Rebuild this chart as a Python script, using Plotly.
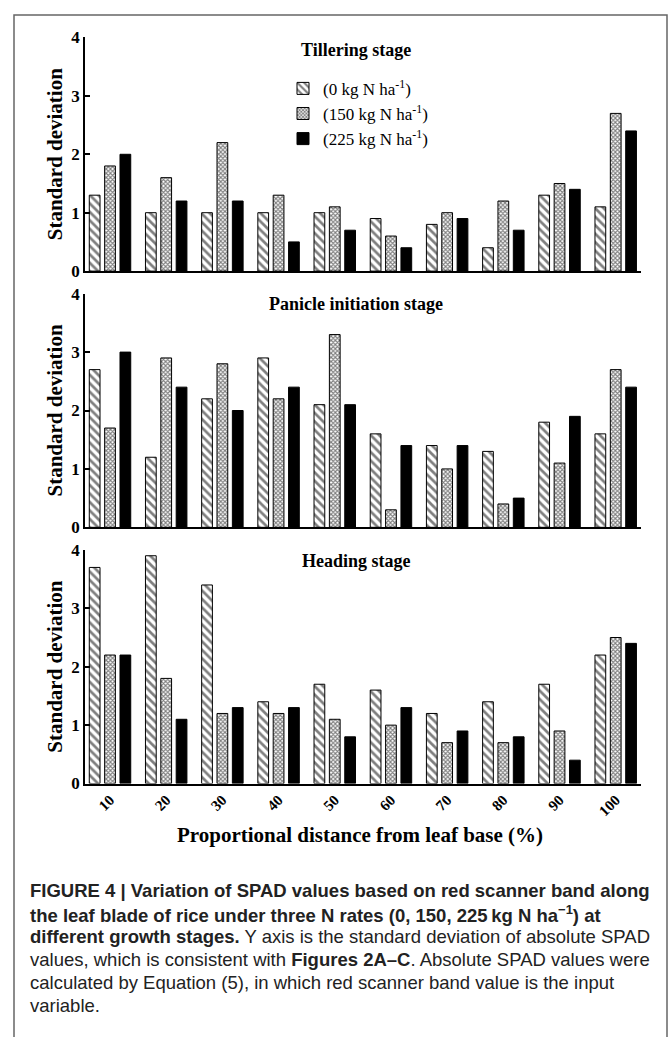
import plotly.graph_objects as go

W, H = 672, 1037

distance_labels = ["10", "20", "30", "40", "50", "60", "70", "80", "90", "100"]
series_names = ["(0 kg N ha<sup>-1</sup>)", "(150 kg N ha<sup>-1</sup>)", "(225 kg N ha<sup>-1</sup>)"]
panel_titles = ["Tillering stage", "Panicle initiation stage", "Heading stage"]

tillering_0 = [1.3, 1.0, 1.0, 1.0, 1.0, 0.9, 0.8, 0.4, 1.3, 1.1]
tillering_150 = [1.8, 1.6, 2.2, 1.3, 1.1, 0.6, 1.0, 1.2, 1.5, 2.7]
tillering_225 = [2.0, 1.2, 1.2, 0.5, 0.7, 0.4, 0.9, 0.7, 1.4, 2.4]

panicle_0 = [2.7, 1.2, 2.2, 2.9, 2.1, 1.6, 1.4, 1.3, 1.8, 1.6]
panicle_150 = [1.7, 2.9, 2.8, 2.2, 3.3, 0.3, 1.0, 0.4, 1.1, 2.7]
panicle_225 = [3.0, 2.4, 2.0, 2.4, 2.1, 1.4, 1.4, 0.5, 1.9, 2.4]

heading_0 = [3.7, 3.9, 3.4, 1.4, 1.7, 1.6, 1.2, 1.4, 1.7, 2.2]
heading_150 = [2.2, 1.8, 1.2, 1.2, 1.1, 1.0, 0.7, 0.7, 0.9, 2.5]
heading_225 = [2.2, 1.1, 1.3, 1.3, 0.8, 1.3, 0.9, 0.8, 0.4, 2.4]

y_ticks = [0, 1, 2, 3, 4]

panels = [
    [tillering_0, tillering_150, tillering_225],
    [panicle_0, panicle_150, panicle_225],
    [heading_0, heading_150, heading_225],
]

def px_x(p):
    return p / W

def px_y(p):
    return 1 - p / H

panel_px = [(29, 267), (290, 528), (551, 789)]
title_px = [42, 301, 562]
x_dom = [px_x(85), px_x(641)]

styles = [
    dict(color="white", pattern=dict(shape="\\", fgcolor="black", bgcolor="white", size=6, solidity=0.45)),
    dict(color="white", pattern=dict(shape="x", fgcolor="black", bgcolor="white", size=3, solidity=0.6)),
    dict(color="black"),
]

TNR = "Liberation Serif, Times New Roman, serif"

fig = go.Figure()
layout_axes = {}
annotations = []
for i, (vals, (top, bot)) in enumerate(zip(panels, panel_px)):
    n = "" if i == 0 else str(i + 1)
    for j, v in enumerate(vals):
        st = dict(styles[j])
        st["line"] = dict(color="black", width=1)
        fig.add_trace(go.Bar(
            x=distance_labels, y=v, name=series_names[j],
            marker=st, xaxis="x" + n, yaxis="y" + n,
            showlegend=(i == 0), legendgroup=str(j),
        ))
    layout_axes["xaxis" + n] = dict(
        domain=x_dom, anchor="y" + n, type="category",
        range=[-0.445, 9.45], showline=True, linecolor="black", linewidth=1.5,
        ticks="", showgrid=False, zeroline=False,
        showticklabels=(i == 2), tickangle=-45,
        tickfont=dict(family=TNR, size=15, color="black", weight="bold"),
    )
    layout_axes["yaxis" + n] = dict(
        domain=[px_y(bot), px_y(top)], anchor="x" + n,
        range=[0, 4], tickvals=y_ticks, ticks="inside", ticklen=5,
        tickwidth=1.5, tickcolor="black",
        showline=True, linecolor="black", linewidth=1.5,
        showgrid=False, zeroline=False,
        tickfont=dict(family=TNR, size=17, color="black", weight="bold"),
    )
    annotations.append(dict(
        text="<b>Standard deviation</b>", textangle=-90,
        x=px_x(55), y=px_y((top + bot) / 2), xref="paper", yref="paper",
        xanchor="center", yanchor="middle",
        showarrow=False, font=dict(family=TNR, size=21, color="black"),
    ))
    annotations.append(dict(
        text="<b>%s</b>" % panel_titles[i],
        x=px_x(356), y=px_y(title_px[i]), xref="paper", yref="paper",
        xanchor="center", yanchor="middle",
        showarrow=False, font=dict(family=TNR, size=18, color="black"),
    ))

annotations.append(dict(
    text="<b>Proportional distance from leaf base (%)</b>",
    x=px_x(360), y=px_y(841), xref="paper", yref="paper",
    xanchor="center", yanchor="middle",
    showarrow=False, font=dict(family=TNR, size=21, color="black"),
))

caption_lines = [
    "<b>FIGURE 4 | Variation of SPAD values based on red scanner band along</b>",
    "<b>the leaf blade of rice under three N rates (0, 150, 225\u2009kg N ha<sup>\u22121</sup>) at</b>",
    "<b>different growth stages.</b> Y axis is the standard deviation of absolute SPAD",
    "values, which is consistent with <b>Figures 2A\u2013C</b>. Absolute SPAD values were",
    "calculated by Equation (5), in which red scanner band value is the input",
    "variable.",
]
cap_y0 = 898
for k, line in enumerate(caption_lines):
    annotations.append(dict(
        text=line, x=px_x(28), y=px_y(cap_y0 + 23.5 * k), xref="paper", yref="paper",
        xanchor="left", yanchor="middle", showarrow=False, align="left",
        font=dict(family="Liberation Sans, Arial, sans-serif", size=18.5, color="#222222"),
    ))

fig.update_layout(
    width=W, height=H, margin=dict(l=0, r=0, t=0, b=0),
    paper_bgcolor="white", plot_bgcolor="white",
    barmode="group", bargap=0.18, bargroupgap=0.3,
    annotations=annotations,
    legend=dict(x=px_x(283), y=px_y(63), xanchor="left", yanchor="top",
                font=dict(family=TNR, size=17, color="black"),
                bgcolor="rgba(0,0,0,0)", tracegroupgap=0),
    shapes=[dict(type="rect", xref="paper", yref="paper",
                 x0=px_x(14), x1=px_x(667), y0=-0.02, y1=px_y(6),
                 line=dict(color="#666666", width=1.5))],
    **layout_axes,
)

fig.write_html("out.html", config={"displayModeBar": False},
               post_script="document.body.style.margin='0';document.body.style.padding='0';")
